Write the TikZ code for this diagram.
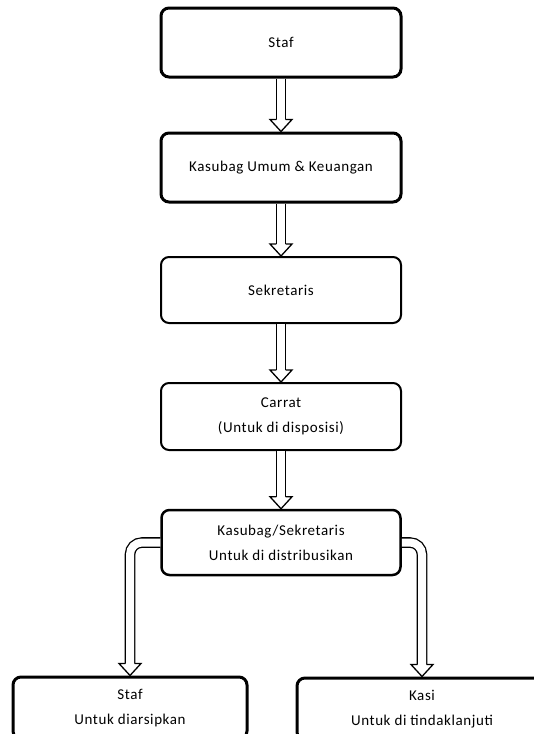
\documentclass[tikz,border=0pt]{standalone}
\usepackage{fontspec}
\setmainfont[LetterSpace=4]{Carlito}
\usetikzlibrary{decorations.markings}

\begin{document}
\begin{tikzpicture}[x=1pt,y=-1pt,
    thickbox/.style={rectangle,rounded corners=8pt,draw,line width=3pt,align=center,
      inner sep=0pt,font=\fontsize{15}{25}\selectfont},
    thinbox/.style={thickbox,line width=2pt},
    dblarrow/.style={draw,double,double distance=8pt,line width=1.3pt,shorten >=8pt,
      postaction={decorate,decoration={markings,
        mark=at position 1 with {\filldraw[fill=white,line width=1.3pt,shorten >=0pt,
          rounded corners=0pt,miter limit=4]
          (-12pt,-4.65pt) -- (-12pt,-11pt) -- (0pt,0pt) -- (-12pt,11pt) -- (-12pt,4.65pt);}}}}
  ]
\clip (0,0) rectangle (534,734);
\fill[white] (0,0) rectangle (534,734);
  \node[thickbox,minimum width=240pt,minimum height=69pt] (staf) at (281,42.5) {Staf};
  \node[thickbox,minimum width=240pt,minimum height=69pt] (kasubag) at (281,167.5) {Kasubag Umum \& Keuangan};
  \node[thinbox,minimum width=240pt,minimum height=66pt] (sekretaris) at (281,290) {Sekretaris};
  \node[thinbox,minimum width=240pt,minimum height=67pt] (carrat) at (281,416.5) {Carrat\\(Untuk di disposisi)};
  \node[thinbox,line width=2.5pt,minimum width=239pt,minimum height=65pt] (distribusi) at (281,542.5) {Kasubag/Sekretaris\\Untuk di distribusikan};
  \node[thickbox,minimum width=234pt,minimum height=62pt] (arsip) at (130,708) {Staf\\Untuk diarsipkan};
  \node[thickbox,minimum width=250pt,minimum height=62pt] (kasi) at (422,709) {Kasi\\Untuk di tindaklanjuti};
  \draw[dblarrow] (staf) -- (kasubag);
  \draw[dblarrow] (kasubag) -- (sekretaris);
  \draw[dblarrow] (sekretaris) -- (carrat);
  \draw[dblarrow] (carrat) -- (distribusi);
  \draw[dblarrow,rounded corners=12pt] (distribusi.west) -| (arsip.north);
  \draw[dblarrow,rounded corners=12pt] (distribusi.east) -| (kasi.north);
\end{tikzpicture}
\end{document}
